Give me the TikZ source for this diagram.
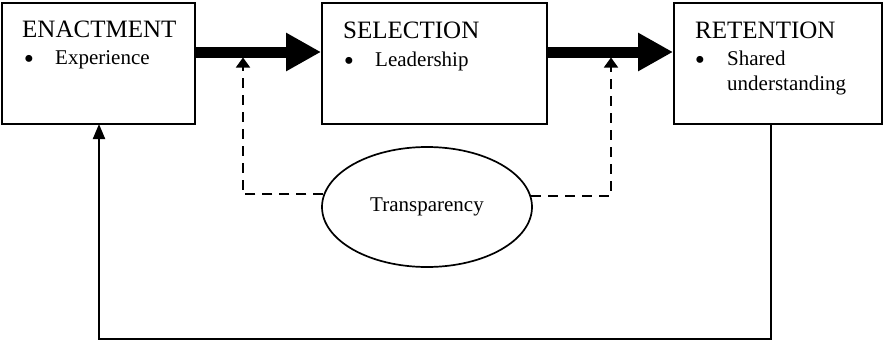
\documentclass[tikz,border=0pt]{standalone}
\usepackage{fontspec}
\setmainfont{Liberation Serif}
\usetikzlibrary{arrows.meta,shapes.geometric}
\tikzset{
  stagebox/.style={draw,line width=1.9pt,rectangle,inner sep=0pt,minimum height=121pt},
  titletext/.style={anchor=base west,inner sep=0pt,font=\fontsize{25}{28}\selectfont},
  itemtext/.style={anchor=base west,inner sep=0pt,font=\fontsize{21}{25}\selectfont,align=left},
  bullettext/.style={anchor=base,inner sep=0pt,font=\fontsize{29}{30}\selectfont},
  bigarrow/.style={line width=11pt,-{Triangle[length=35pt,width=36pt]}},
  dashline/.style={line width=1.7pt,dash pattern=on 10pt off 7pt,-{Triangle[length=10pt,width=14pt]}},
  fbline/.style={line width=2.1pt,-{Triangle[length=15pt,width=12pt]}},
  ovalnode/.style={draw,ellipse,line width=1.7pt,minimum width=210pt,minimum height=120pt,inner sep=0pt,font=\fontsize{21}{25}\selectfont}
}
\begin{document}
\begin{tikzpicture}[x=1pt,y=-1pt]
\useasboundingbox (0,0) rectangle (883,343);
% boxes
\node[stagebox,minimum width=193pt] (enact) at (98.5,63.5) {};
\node[stagebox,minimum width=225pt] (sel) at (434.5,63.5) {};
\node[stagebox,minimum width=208pt] (ret) at (778,63.5) {};
% texts
\node[titletext] (t1) at (22,37) {ENACTMENT};
\node[bullettext] (b1) at (29,68) {•};
\node[itemtext] (i1) at (55,64) {Experience};
\node[titletext] (t2) at (343,38) {SELECTION};
\node[bullettext] (b2) at (349,70) {•};
\node[itemtext] (i2) at (375,66) {Leadership};
\node[titletext] (t3) at (695,38) {RETENTION};
\node[bullettext] (b3) at (700,69) {•};
\node[itemtext] (i3) at (727,65) {Shared};
\node[itemtext] (i4) at (727,90) {understanding};
% thick arrows
\coordinate (row) at (0,52);
\draw[bigarrow] (enact.east |- row) -- (sel.west |- row);
\draw[bigarrow] (sel.east |- row) -- (ret.west |- row);
% oval
\node[ovalnode] (trans) at (427,207) {Transparency};
% dashed feedback to arrows
\coordinate (ja) at (243,57.5);
\coordinate (jb) at (611,57.5);
\draw[dashline] (trans.173.4) -| (ja);
\draw[dashline] (trans.6.6) -| (jb);
% feedback loop
\coordinate (fbs) at (771,124);
\coordinate (fbb) at (771,339);
\coordinate (fbe) at (99,124);
\draw[fbline] (fbs) -- (fbb) -| (fbe);
\end{tikzpicture}
\end{document}
